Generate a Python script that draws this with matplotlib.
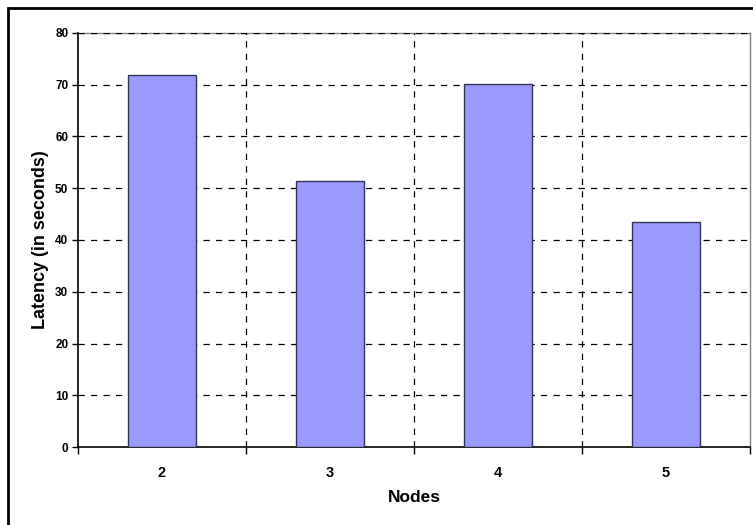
import matplotlib
matplotlib.use("Agg")
import matplotlib.pyplot as plt
from matplotlib.patches import Rectangle

categories = ["2", "3", "4", "5"]
latency = [71.8, 51.4, 70.1, 43.5]
y_ticks = [0, 10, 20, 30, 40, 50, 60, 70, 80]

plt.rcParams['font.family'] = ['Liberation Sans', 'DejaVu Sans']
plt.rcParams['font.weight'] = 'bold'

fig = plt.figure(figsize=(7.53, 5.25), dpi=100)
ax = fig.add_axes([78/753, 78/525, (750-78)/753, (447-33)/525])

x = list(range(len(categories)))
ax.bar(x, latency, width=0.4, color='#9999FF', edgecolor='#333355', linewidth=1.0, zorder=3)

ax.set_xlim(-0.5, len(categories) - 0.5)
ax.set_ylim(0, 80)
ax.set_yticks(y_ticks)
ax.set_yticklabels([str(v) for v in y_ticks], fontsize=8.5, fontweight='bold')
ax.set_xticks(x)
ax.set_xticklabels(categories, fontsize=10.5, fontweight='bold')
ax.set_xticks([i - 0.5 for i in range(len(categories) + 1)], minor=True)
ax.tick_params(axis='x', which='major', length=0, pad=14)
ax.tick_params(axis='x', which='minor', length=5, width=1, direction='out', color='black')
ax.tick_params(axis='y', which='major', length=4, width=1, direction='out', pad=3)

for v in y_ticks[1:]:
    ax.axhline(v, color='black', linestyle=(0, (5, 5)), linewidth=0.9, zorder=1)
for i in range(1, len(categories)):
    ax.axvline(i - 0.5, color='black', linestyle=(0, (5, 5)), linewidth=0.9, zorder=1)

for side in ['top', 'right']:
    ax.spines[side].set_color('#808080')
    ax.spines[side].set_linewidth(1.0)
for side in ['left', 'bottom']:
    ax.spines[side].set_color('black')
    ax.spines[side].set_linewidth(1.2)
ax.spines['top'].set_zorder(0.5)

ax.set_xlabel('Nodes', fontsize=12.5, fontweight='bold', labelpad=7)
ax.set_ylabel('Latency (in seconds)', fontsize=13, fontweight='bold', labelpad=4)

border = Rectangle((7.5/753, -0.1), 1.2, 1.1 - 8.5/525, transform=fig.transFigure,
                   fill=False, edgecolor='black', linewidth=2.0, clip_on=False)
fig.patches.append(border)

fig.savefig('out.png', dpi=100)
